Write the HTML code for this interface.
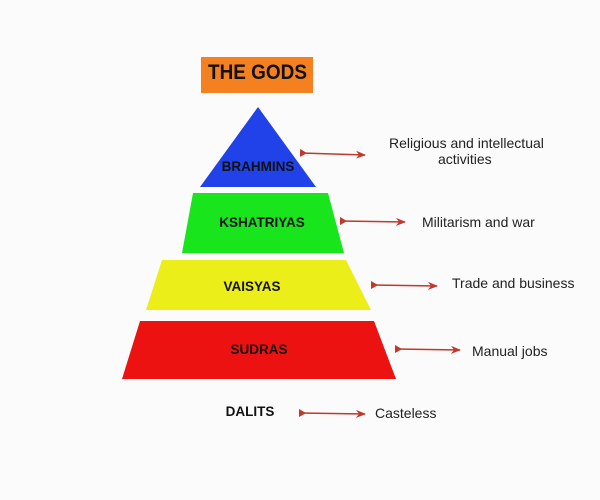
<!DOCTYPE html>
<html><head><meta charset="utf-8"><style>
html,body{margin:0;padding:0;background:#fbfbfb;}
svg{display:block;}
text{font-family:"Liberation Sans",sans-serif;}
</style></head><body>
<svg width="600" height="500" viewBox="0 0 600 500">
<defs>
<marker id="h" markerWidth="10" markerHeight="8" refX="9" refY="4" orient="auto" markerUnits="userSpaceOnUse"><path d="M0,0 L10,4 L0,8 L3,4 Z" fill="#c0392b"/></marker>
<marker id="t" markerWidth="10" markerHeight="8" refX="1" refY="4" orient="auto" markerUnits="userSpaceOnUse"><path d="M0,0 L7,4 L0,8 Z" fill="#c0392b"/></marker>
</defs>
<rect x="201" y="57" width="112" height="36" fill="#f4801f"/>
<text x="208" y="79" font-size="21" font-weight="bold" textLength="99" lengthAdjust="spacingAndGlyphs" fill="#111">THE GODS</text>
<polygon points="258,107 316,187 200,187" fill="#2042e8"/>
<polygon points="193,193 328,193 344,253 182,253" fill="#18e51c"/>
<polygon points="162,260 346,260 371,310 146,310" fill="#ecee1a"/>
<polygon points="140,321 374,321 396,379 122,379" fill="#ec1212"/>
<g font-size="13.5" font-weight="bold" text-anchor="middle" fill="#111">
<text x="258" y="171">BRAHMINS</text>
<text x="262" y="227">KSHATRIYAS</text>
<text x="252" y="291">VAISYAS</text>
<text x="259" y="354">SUDRAS</text>
<text x="250" y="416">DALITS</text>
</g>
<g stroke="#c0392b" stroke-width="1.5" marker-end="url(#h)" marker-start="url(#t)">
<line x1="301" y1="153" x2="365" y2="155"/>
<line x1="341" y1="221" x2="405" y2="222"/>
<line x1="372" y1="285" x2="437" y2="286"/>
<line x1="396" y1="349" x2="460" y2="350"/>
<line x1="300" y1="413" x2="365" y2="414"/>
</g>
<g font-size="14" fill="#222">
<text x="389" y="148">Religious and intellectual</text>
<text x="438" y="164">activities</text>
<text x="422" y="227">Militarism and war</text>
<text x="452" y="288">Trade and business</text>
<text x="472" y="356">Manual jobs</text>
<text x="375" y="418">Casteless</text>
</g>
</svg>
</body></html>
